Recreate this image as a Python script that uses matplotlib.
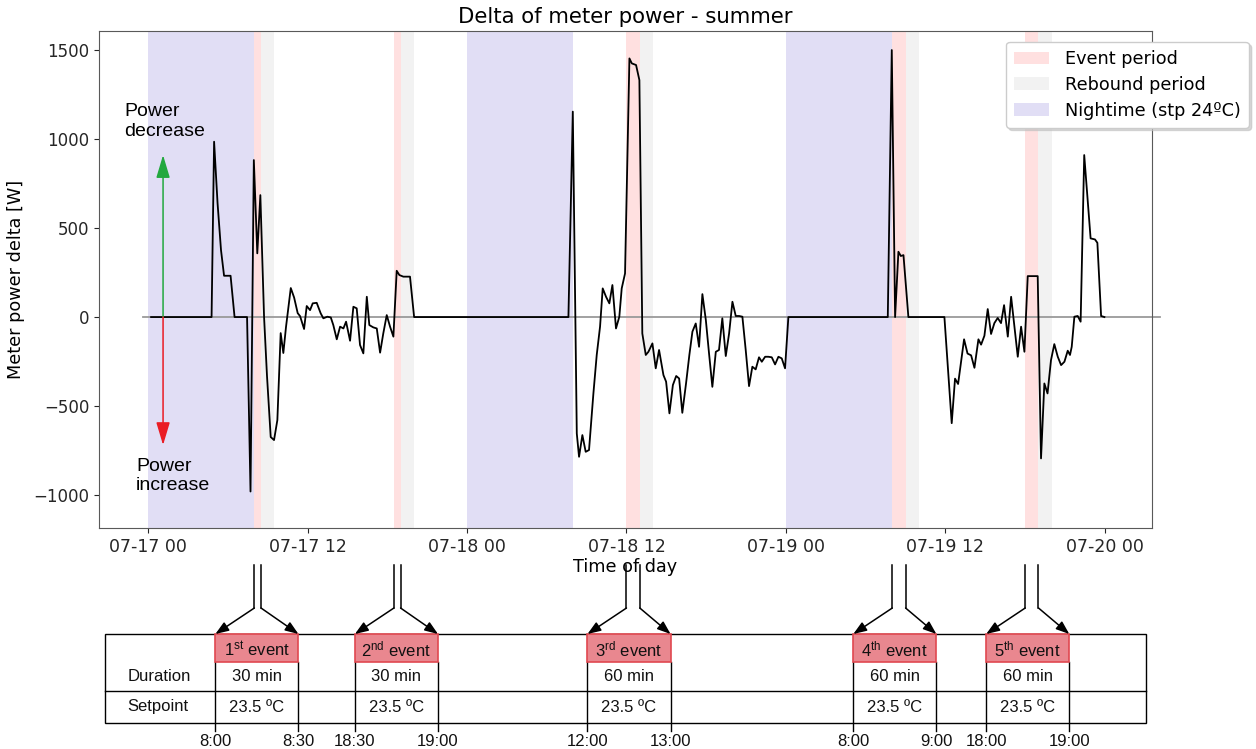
import matplotlib
matplotlib.use("Agg")
import matplotlib.pyplot as plt
from matplotlib.patches import Patch, Rectangle, ConnectionPatch
from matplotlib.lines import Line2D
from matplotlib.ticker import MultipleLocator, FuncFormatter
from matplotlib import transforms
from datetime import datetime, timedelta

plt.rcParams["font.family"] = ["DejaVu Sans"]
plt.rcParams["mathtext.fontset"] = "custom"
plt.rcParams["mathtext.rm"] = "Liberation Sans"
plt.rcParams["mathtext.it"] = "Liberation Sans:italic"
plt.rcParams["mathtext.bf"] = "Liberation Sans:bold"

START = datetime(2019, 7, 17)  # hour 0 of the plotted window

# Delta of meter power [W], sampled at hours since 07-17 00:00
hours = [
    0.23, 4.78, 4.97, 5.23, 5.49, 5.72, 6.21, 6.51, 7.45, 7.71,
    7.96, 8.22, 8.45, 8.73, 8.95, 9.23, 9.48, 9.73, 9.98, 10.18,
    10.38, 10.74, 10.99, 11.26, 11.44, 11.74, 11.94, 12.19, 12.39, 12.69,
    12.99, 13.19, 13.49, 13.75, 13.94, 14.2, 14.45, 14.7, 14.9, 15.2,
    15.45, 15.7, 15.95, 16.2, 16.46, 16.65, 16.95, 17.21, 17.46, 17.7,
    17.96, 18.21, 18.46, 18.71, 18.91, 19.21, 19.71, 20.02,
    31.63, 31.96, 32.26, 32.43, 32.68, 32.93, 33.18, 33.51, 33.76, 34.01,
    34.21, 34.46, 34.71, 34.94, 35.21, 35.46, 35.64, 35.89, 36.22, 36.4,
    36.72, 36.97, 37.19, 37.45, 37.65, 37.95, 38.2, 38.45, 38.78, 38.98,
    39.23, 39.49, 39.74, 39.96, 40.2, 40.48, 40.73, 40.96, 41.21, 41.46,
    41.71, 41.97, 42.21, 42.46, 42.72, 42.96, 43.21, 43.47, 43.72, 43.97,
    44.22, 44.47, 44.72, 44.97, 45.22, 45.47, 45.72, 45.97, 46.18, 46.43,
    46.67, 46.93, 47.18, 47.43, 47.68, 47.93, 48.18,
    55.66, 55.96, 56.21, 56.46, 56.64, 56.84, 57.21, 59.92, 60.47, 60.72,
    60.95, 61.4, 61.66, 61.93, 62.18, 62.48, 62.68, 62.93, 63.18, 63.43,
    63.68, 63.93, 64.18, 64.41, 64.69, 64.94, 65.19, 65.44, 65.69, 65.94,
    66.19, 66.94, 67.19, 67.44, 67.68, 67.94, 68.19, 68.45, 68.7, 68.95,
    69.2, 69.37, 69.5, 69.7, 69.95, 70.17, 70.44, 70.92, 71.25, 71.43,
    71.71, 71.96,
]
delta_w = [
    0, 0, 985, 640, 376, 232, 232, 0, 0, -980,
    882, 358, 685, 0, -330, -674, -691, -579, -90, -202,
    -56, 163, 110, 22, 5, -67, 62, 39, 77, 80,
    21, -7, 2, -2, -45, -125, -54, -64, -26, -133,
    58, 49, -157, -204, 114, -45, -58, -64, -200, -92,
    11, -54, -110, 260, 236, 227, 227, 0,
    0, 1154, -654, -785, -663, -757, -747, -429, -213, -54,
    161, 114, 77, 180, -64, 2, 161, 245, 1453, 1425,
    1416, 1331, -92, -213, -195, -148, -288, -185, -326, -363,
    -541, -382, -331, -345, -538, -373, -213, -82, -36, -167,
    129, -17, -204, -392, -195, -185, -7, -219, -92, 86,
    6, 6, 2, -185, -388, -279, -294, -226, -251, -223,
    -223, -226, -266, -223, -232, -288, 0,
    0, 1500, 0, 367, 343, 348, 0, 0, -596, -346,
    -376, -125, -205, -215, -285, -125, -155, -105, 45, -95,
    -34, -5, -34, 67, -110, 114, -54, -223, -54, -195,
    230, 230, -794, -373, -429, -242, -152, -223, -270, -251,
    -189, -213, -167, 2, 6, -26, 910, 442, 436, 417,
    6, 0,
]

# Night setback periods (start hour, length in hours)
night_start_h = [0, 24, 48]
night_length_h = 8
rebound_length_h = 1

# Demand-response events
event_start = ["07-17 08:00", "07-17 18:30", "07-18 12:00", "07-19 08:00", "07-19 18:00"]
event_end = ["07-17 08:30", "07-17 19:00", "07-18 13:00", "07-19 09:00", "07-19 19:00"]
event_number = ["1", "2", "3", "4", "5"]
event_suffix = ["st", "nd", "rd", "th", "th"]
event_setpoint = ["23.5 ºC", "23.5 ºC", "23.5 ºC", "23.5 ºC", "23.5 ºC"]

legend_labels = ["Event period", "Rebound period", "Nightime (stp 24ºC)"]


def to_hours(stamp):
    t = datetime.strptime(f"{START.year}-{stamp}", "%Y-%m-%d %H:%M")
    return (t - START).total_seconds() / 3600.0


ev_s = [to_hours(s) for s in event_start]
ev_e = [to_hours(s) for s in event_end]

# ---------------------------------------------------------------- figure
W, H = 1256, 749
fig = plt.figure(figsize=(W / 100, H / 100), dpi=100)
ax = fig.add_axes([99 / W, 1 - 528 / H, 1053 / W, 497 / H])

NIGHT_KW = dict(color="slateblue", alpha=0.2, lw=0)
EVENT_KW = dict(color="red", alpha=0.12, lw=0)
REBOUND_KW = dict(color="gray", alpha=0.1, lw=0)

for n in night_start_h:
    ax.axvspan(n, n + night_length_h, zorder=0, **NIGHT_KW)
for s, e in zip(ev_s, ev_e):
    ax.axvspan(s, e, zorder=0, **EVENT_KW)
    ax.axvspan(e, e + rebound_length_h, zorder=0, **REBOUND_KW)

ax.plot([-0.38, 76.15], [0, 0], color="#9a9a9a", lw=1.3, zorder=2, clip_on=False)
ax.plot(hours, delta_w, color="black", lw=1.3, zorder=3)

ax.set_xlim(-3.69, 75.54)
ax.set_ylim(-1185, 1607)
ax.xaxis.set_major_locator(MultipleLocator(12))
ax.xaxis.set_major_formatter(
    FuncFormatter(lambda h, _: (START + timedelta(hours=h)).strftime("%m-%d %H")))
ax.yaxis.set_major_locator(MultipleLocator(500))
ax.tick_params(axis="x", labelsize=12.5, colors="0.15")
ax.tick_params(axis="y", labelsize=12, colors="0.15")
for sp in ax.spines.values():
    sp.set_color("0.35")

ax.set_title("Delta of meter power - summer", fontsize=15.3, pad=6)
ax.set_xlabel("Time of day", fontsize=12.7, labelpad=2)
ax.set_ylabel("Meter power delta [W]", fontsize=12.7, labelpad=6)

handles = [Patch(**EVENT_KW), Patch(**REBOUND_KW), Patch(**NIGHT_KW)]
ax.legend(handles, legend_labels, loc="upper right", bbox_to_anchor=(1.092, 0.978),
          borderaxespad=0, fontsize=12.7, shadow=dict(ox=2, oy=-2, color="0.75", alpha=0.6),
          framealpha=1, labelspacing=0.45, handletextpad=0.9, borderpad=0.45)

# direction hints
arrow_h = 1.13
ax.annotate("", xy=(arrow_h, 910), xytext=(arrow_h, 0),
            arrowprops=dict(arrowstyle="-|>,head_length=1.0,head_width=0.3",
                            mutation_scale=14, color="#22a83e", lw=1.1, shrinkA=0, shrinkB=0))
ax.annotate("", xy=(arrow_h, -719), xytext=(arrow_h, 0),
            arrowprops=dict(arrowstyle="-|>,head_length=1.0,head_width=0.3",
                            mutation_scale=14, color="#ea1c24", lw=1.1, shrinkA=0, shrinkB=0))
ax.text(-1.81, 1205, "Power\ndecrease", ha="left", va="top", fontsize=14,
        family="Liberation Sans", linespacing=1.25, zorder=4)
ax.text(-0.9, -790, "Power\nincrease", ha="left", va="top", fontsize=14,
        family="Liberation Sans", linespacing=1.2, zorder=4)

# ---------------------------------------------------------------- event table
# The table shares the hour scale of the chart, shifted a little to the left.
fig.canvas.draw()
x0, x1 = ax.get_xlim()
ax_left_px = ax.get_position().x0 * W
px_per_h = ax.get_position().width * W / (x1 - x0)
shift_px = 39
tab = fig.add_axes([0, 0, 1, 1], zorder=-1)
tab.set_axis_off()
tab.set_autoscale_on(False)
tab.set_xlim(x0 + (shift_px - ax_left_px) / px_per_h,
             x0 + (W + shift_px - ax_left_px) / px_per_h)
tab.set_ylim(H, 0)

TBL_X = (-0.3, 78.0)
COL_W = 6.25
Y_TOP, Y_HEAD, Y_MID, Y_BOT, Y_TICK = 634, 662, 691, 723, 731
Y_LINE_TOP, Y_BEND, Y_TIME = 565, 608, 741
TXT = dict(family="Liberation Sans", fontsize=12, color="#111111")

tab.add_patch(Rectangle((TBL_X[0], Y_TOP), TBL_X[1] - TBL_X[0], Y_BOT - Y_TOP,
                        fill=False, ec="black", lw=1.0))
tab.plot(TBL_X, [Y_MID, Y_MID], color="black", lw=1.0)
tab.text(TBL_X[0] + 1.7, (Y_HEAD + Y_MID) / 2, "Duration", ha="left", va="center", **TXT)
tab.text(TBL_X[0] + 1.7, (Y_MID + Y_BOT) / 2, "Setpoint", ha="left", va="center", **TXT)

blend = transforms.blended_transform_factory(ax.transData, tab.transData)
for s, e, num, suf, stp in zip(ev_s, ev_e, event_number, event_suffix, event_setpoint):
    left, right = s, s + COL_W
    mid = (left + right) / 2
    for xc in (left, right):
        tab.plot([xc, xc], [Y_HEAD, Y_TICK], color="black", lw=1.0)
    tab.add_patch(Rectangle((left, Y_TOP), COL_W, Y_HEAD - Y_TOP,
                            fc="#e9878f", ec="#e04850", lw=1.2, zorder=3))
    tab.text(mid, (Y_TOP + Y_HEAD) / 2 + 1, num + r"$^{\rm " + suf + "}$ event",
             ha="center", va="center", zorder=4, **TXT)
    minutes = int(round((e - s) * 60))
    tab.text(mid, (Y_HEAD + Y_MID) / 2, f"{minutes} min", ha="center", va="center", **TXT)
    tab.text(mid, (Y_MID + Y_BOT) / 2, stp, ha="center", va="center", **TXT)
    for t_chart, t_col in ((s, left), (e, right)):
        label = (START + timedelta(hours=t_chart)).strftime("%H:%M").lstrip("0")
        tab.text(t_col, Y_TIME, label, ha="center", va="center", **TXT)
        fig.add_artist(Line2D([t_chart, t_chart], [Y_LINE_TOP, Y_BEND],
                              transform=blend, color="black", lw=1.1))
        fig.add_artist(ConnectionPatch(
            xyA=(t_chart, Y_BEND), coordsA=blend,
            xyB=(t_col, Y_TOP), coordsB=tab.transData,
            arrowstyle="-|>,head_length=0.8,head_width=0.3", mutation_scale=10,
            color="black", lw=1.1))

fig.savefig("out.png", dpi=100)
